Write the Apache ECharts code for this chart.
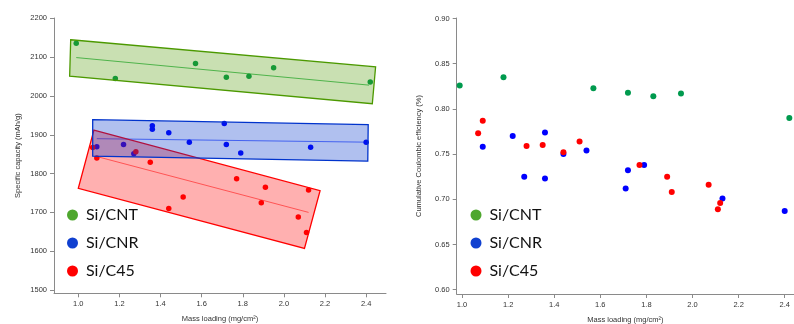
<!DOCTYPE html>
<html>
<head>
<meta charset="utf-8">
<script src="https://cdn.jsdelivr.net/npm/echarts@6/dist/echarts.min.js"></script>
<style>
  html, body { margin: 0; padding: 0; background: #fff; }
  #main { width: 794px; height: 324px; }
</style>
</head>
<body>
<div id="main"></div>
<script>
  // mass loading (mg/cm2) shared by both panels
  var cntX = [0.99, 1.18, 1.57, 1.72, 1.83, 1.95, 2.42];
  var cnrX = [1.09, 1.22, 1.27, 1.36, 1.36, 1.44, 1.54, 1.71, 1.72, 1.79, 2.13, 2.40];
  var c45X = [1.07, 1.09, 1.28, 1.35, 1.44, 1.51, 1.77, 1.89, 1.91, 2.07, 2.11, 2.12];

  // specific capacity (mAh/g)
  var cntCap = [2136, 2045, 2084, 2048, 2051, 2073, 2036];
  var cnrCap = [1869, 1875, 1851, 1923, 1914, 1905, 1881, 1929, 1875, 1853, 1868, 1881];
  var c45Cap = [1867, 1840, 1856, 1829, 1710, 1740, 1787, 1725, 1765, 1688, 1648, 1758];

  // cumulative coulombic efficiency
  var cntEff = [0.826, 0.835, 0.823, 0.818, 0.814, 0.817, 0.790];
  var cnrEff = [0.758, 0.770, 0.725, 0.774, 0.723, 0.750, 0.754, 0.712, 0.732, 0.738, 0.701, 0.687];
  var c45Eff = [0.773, 0.787, 0.759, 0.760, 0.752, 0.764, 0.738, 0.725, 0.708, 0.716, 0.689, 0.696];

  // shaded bands (corners) and trend lines, left panel
  var cntBand = [[0.963, 2145], [2.446, 2075], [2.430, 1980], [0.958, 2051]];
  var cnrBand = [[1.07, 1939], [2.41, 1926], [2.408, 1832], [1.07, 1845]];
  var c45Band = [[1.076, 1912], [2.176, 1756], [2.10, 1607], [1.00, 1762]];
  var cntFit = [[0.99, 2099], [2.414, 2028]];
  var cnrFit = [[1.09, 1890], [2.40, 1881]];
  var c45Fit = [[1.09, 1844], [2.12, 1700]];

  // tick labels
  var massTicks = [1.0, 1.2, 1.4, 1.6, 1.8, 2.0, 2.2, 2.4];
  var capTicks = [1500, 1600, 1700, 1800, 1900, 2000, 2100, 2200];
  var effTicks = [0.60, 0.65, 0.70, 0.75, 0.80, 0.85, 0.90];

  var names = ["Si/CNT", "Si/CNR", "Si/C45"];
  var ptColors = ["#009a4e", "#0000ff", "#ff0000"];
  var legendColors = ["#4ea72e", "#1040d0", "#ff0000"];

  function zip(xs, ys) {
    return xs.map(function (x, i) { return [x, ys[i]]; });
  }

  var axisFont = { fontFamily: "Liberation Sans", fontSize: 7.5, color: "#333" };
  var axisLine = { show: true, onZero: false, lineStyle: { color: "#8a8a8a", width: 1 } };
  var axisTick = { show: true, length: 4, lineStyle: { color: "#8a8a8a" } };

  function xAxis(grid, min, max) {
    return {
      type: "value", gridIndex: grid, min: min, max: max,
      name: "Mass loading (mg/cm²)", nameLocation: "middle", nameGap: 22,
      nameTextStyle: axisFont,
      axisLine: axisLine,
      axisTick: Object.assign({ customValues: massTicks }, axisTick),
      axisLabel: Object.assign({ customValues: massTicks, margin: 7,
        formatter: function (v) { return v.toFixed(1); } }, axisFont),
      splitLine: { show: false },
    };
  }

  function yAxis(grid, min, max, ticks, name, gap, digits) {
    return {
      type: "value", gridIndex: grid, min: min, max: max,
      name: name, nameLocation: "middle", nameGap: gap,
      nameTextStyle: axisFont,
      axisLine: axisLine,
      axisTick: Object.assign({ customValues: ticks }, axisTick),
      axisLabel: Object.assign({ customValues: ticks, margin: 7,
        formatter: function (v) { return v.toFixed(digits); } }, axisFont),
      splitLine: { show: false },
    };
  }

  function band(corners, fill, stroke, z) {
    return {
      type: "custom", xAxisIndex: 0, yAxisIndex: 0, z: z, silent: true, clip: false,
      data: [[1.5, 1800]],
      renderItem: function (params, api) {
        return {
          type: "polygon",
          shape: { points: corners.map(function (c) { return api.coord(c); }) },
          style: { fill: fill, stroke: stroke, lineWidth: 1.3 },
        };
      },
    };
  }

  function fit(pts, color) {
    return {
      type: "line", xAxisIndex: 0, yAxisIndex: 0, z: 2, silent: true,
      data: pts, showSymbol: false, symbol: "none",
      lineStyle: { color: color, width: 0.9 },
    };
  }

  function dots(i, grid, data, size) {
    return {
      name: names[i], type: "scatter", xAxisIndex: grid, yAxisIndex: grid, z: 2,
      data: data, symbolSize: size, itemStyle: { color: ptColors[i], opacity: 1 },
    };
  }

  function legend(left) {
    return {
      left: left, top: 200, orient: "vertical", icon: "circle",
      itemWidth: 11, itemHeight: 11, itemGap: 8, selectedMode: false,
      textStyle: { fontFamily: "Lato", fontSize: 16, color: "#111", lineHeight: 20, padding: [0, 0, 0, 3] },
      data: names.map(function (n, i) { return { name: n, itemStyle: { color: legendColors[i] } }; }),
    };
  }

  var chart = echarts.init(document.getElementById("main"), null, { renderer: "canvas" });
  chart.setOption({
    animation: false,
    backgroundColor: "#fff",
    grid: [
      { left: 54, top: 18, width: 332, height: 275.3, outerBoundsMode: "none", containLabel: false },
      { left: 456.7, top: 18, right: 0, height: 276, outerBoundsMode: "none", containLabel: false },
    ],
    xAxis: [xAxis(0, 0.8818, 2.4966), xAxis(1, 0.977, 2.4403)],
    yAxis: [
      yAxis(0, 1491.5, 2201, capTicks, "Specific capacity (mAh/g)", 32, 0),
      yAxis(1, 0.5952, 0.9006, effTicks, "Cumulative Coulombic efficiency (%)", 34, 2),
    ],
    legend: [legend(62), legend(465.5)],
    series: [
      dots(0, 0, zip(cntX, cntCap), 5.5),
      dots(1, 0, zip(cnrX, cnrCap), 5.5),
      dots(2, 0, zip(c45X, c45Cap), 5.5),
      fit(cntFit, "#3cb85a"),
      fit(cnrFit, "#5068ff"),
      fit(c45Fit, "#ff6a6a"),
      band(c45Band, "rgba(255,0,0,0.31)", "#ff0000", 3),
      band(cntBand, "rgba(76,153,0,0.3)", "#4c9900", 3),
      band(cnrBand, "rgba(0,51,204,0.31)", "#0033cc", 4),
      dots(0, 1, zip(cntX, cntEff), 6),
      dots(1, 1, zip(cnrX, cnrEff), 6),
      dots(2, 1, zip(c45X, c45Eff), 6),
    ],
  });
</script>
</body>
</html>
